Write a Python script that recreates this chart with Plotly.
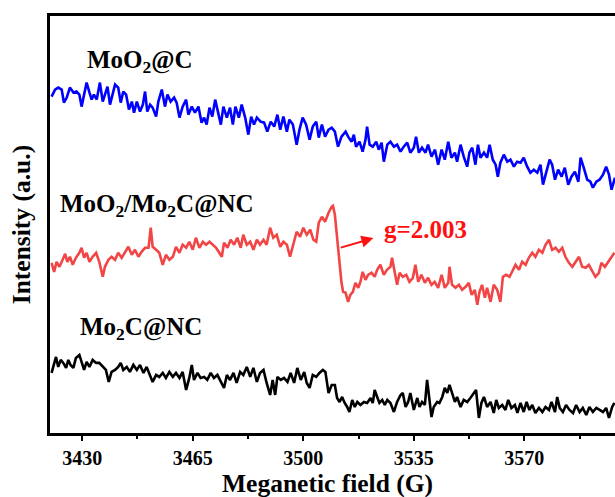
import plotly.graph_objects as go

# ---------------- data ----------------
blue_field = [
    3420.3, 3421.4, 3422.4, 3423.5, 3424.2, 3425.1, 3426.1, 3427.2, 3428.2, 3429.1,
    3429.8, 3430.7, 3431.4, 3432.3, 3433.0, 3433.7, 3434.6, 3435.6, 3436.5, 3437.2,
    3438.0, 3438.8, 3439.6, 3440.4, 3441.4, 3442.2, 3443.0, 3443.9, 3444.8, 3445.7,
    3446.4, 3447.3, 3448.3, 3449.2, 3449.9, 3450.6, 3451.5, 3452.3, 3453.4, 3454.1,
    3455.2, 3456.2, 3457.0, 3458.0, 3459.1, 3459.9, 3460.8, 3461.8, 3462.9, 3463.6,
    3464.7, 3465.7, 3466.8, 3467.8, 3468.6, 3469.4, 3470.3, 3471.2, 3472.1, 3473.1,
    3473.9, 3474.7, 3475.8, 3476.8, 3477.7, 3478.5, 3479.6, 3480.5, 3481.6, 3482.6,
    3483.5, 3484.4, 3485.3, 3486.5, 3487.6, 3488.6, 3489.7, 3490.8, 3491.8, 3492.7,
    3493.7, 3494.8, 3495.6, 3496.7, 3497.9, 3498.8, 3499.8, 3500.9, 3502.0, 3503.0,
    3504.1, 3504.9, 3505.9, 3506.9, 3508.0, 3509.0,
    3510.0, 3511.0, 3512.1, 3513.4, 3514.2, 3515.3, 3516.0, 3516.7, 3517.8, 3518.8,
    3519.7, 3520.2, 3521.0, 3522.0, 3523.1, 3523.9, 3524.8, 3525.5, 3526.6, 3527.6,
    3528.7, 3529.7, 3530.8, 3531.8, 3532.9, 3533.9, 3535.0, 3535.7, 3536.6, 3537.6,
    3538.7, 3539.5, 3540.6, 3541.7, 3542.7, 3543.8, 3544.8, 3545.9, 3546.9, 3548.0,
    3548.7, 3549.8, 3550.8, 3551.9, 3552.6, 3553.5, 3554.5, 3555.3, 3556.1, 3557.2,
    3558.2, 3559.0, 3560.0, 3560.9, 3561.6, 3562.4, 3563.5, 3564.6, 3565.6, 3566.7,
    3567.7, 3568.8, 3569.8, 3570.9, 3571.9, 3573.0, 3574.1, 3575.1, 3575.9, 3576.9,
    3578.0, 3578.8, 3579.7, 3580.7, 3581.8, 3582.8, 3583.9, 3584.9, 3586.0, 3587.1,
    3587.8, 3588.8, 3589.9, 3590.9, 3591.7, 3592.8, 3593.8, 3594.9, 3595.9, 3596.8,
    3597.6, 3598.7,
]
blue_intensity = [
    336, 343, 345, 343, 330, 335, 345, 340, 341, 338,
    326, 338, 350, 340, 333, 338, 333, 350, 331, 338,
    346, 328, 338, 348, 345, 330, 341, 338, 323, 331,
    320, 331, 321, 328, 341, 321, 328, 325, 316, 331,
    343, 326, 338, 331, 335, 330, 315, 326, 333, 318,
    326, 320, 326, 310, 315, 308, 325, 316, 333, 318,
    308, 326, 315, 325, 308, 326, 315, 328, 315, 298,
    316, 308, 315, 311, 310, 301, 311, 306, 318, 303,
    316, 301, 313, 308, 288, 303, 315, 308, 293, 306,
    311, 295, 308, 296, 303, 305,
    301, 286, 296, 301, 296, 291, 298, 286, 291, 281,
    293, 306, 288, 286, 291, 283, 290, 271, 288, 291,
    286, 288, 281, 286, 290, 280, 285, 296, 280, 285,
    280, 288, 276, 283, 268, 283, 273, 291, 275, 280,
    271, 288, 276, 266, 280, 285, 268, 288, 275, 280,
    275, 288, 273, 268, 256, 270, 278, 271, 273, 266,
    271, 270, 275, 266, 260, 263, 260, 268, 248, 260,
    273, 268, 253, 263, 256, 265, 248, 256, 261, 251,
    275, 265, 253, 251, 245, 251, 253, 258, 266, 258,
    243, 255,
]

red_field = [
    3420.3, 3421.1, 3421.9, 3422.8, 3423.8, 3424.6, 3425.3, 3426.1, 3427.0, 3428.0,
    3429.1, 3429.8, 3430.6, 3431.4, 3432.3, 3433.3, 3434.4, 3435.4, 3436.5, 3437.2,
    3438.3, 3439.3, 3440.4, 3441.4, 3442.5, 3443.6, 3444.6, 3445.7, 3446.7, 3447.8,
    3448.8, 3449.9, 3451.0, 3451.7, 3452.3, 3453.4, 3454.4, 3455.5, 3456.5, 3457.6,
    3458.7, 3459.7, 3460.8, 3461.8, 3462.9, 3463.9, 3465.0, 3466.0, 3467.1, 3468.2,
    3469.2, 3470.3, 3471.3, 3472.4, 3473.4, 3474.2, 3474.9, 3476.0, 3477.0, 3478.1,
    3479.1, 3480.2, 3481.0, 3482.1, 3483.2, 3484.2, 3485.3, 3486.3, 3487.4, 3488.4,
    3489.5, 3490.5, 3491.6, 3492.7, 3493.7, 3494.8, 3495.8, 3496.9, 3497.9, 3499.0,
    3500.0, 3501.1, 3502.2, 3503.2, 3504.1, 3504.9, 3505.9, 3506.9, 3508.0, 3509.0,
    3509.4, 3510.0, 3510.4, 3511.0, 3511.5, 3512.1, 3512.6, 3513.4, 3514.2, 3514.9,
    3515.7, 3516.5, 3517.4, 3518.1, 3518.8, 3519.7, 3520.5, 3521.6, 3522.6, 3523.4,
    3524.4, 3525.5, 3526.5, 3527.6, 3528.1, 3529.0, 3529.7, 3530.5, 3531.5, 3532.6,
    3533.6, 3534.7, 3535.5, 3536.4, 3537.4, 3538.5, 3539.5, 3540.6, 3541.6, 3542.7,
    3543.8, 3544.8, 3545.9, 3546.3, 3547.1, 3548.2, 3549.3, 3550.3, 3551.4, 3552.4,
    3553.3, 3554.3, 3555.1, 3555.8, 3556.6, 3557.5, 3558.2, 3559.3, 3560.3, 3561.4,
    3562.4, 3563.2, 3564.2, 3565.3, 3566.4, 3567.2, 3568.3, 3569.3, 3570.4, 3571.4,
    3572.5, 3573.5, 3574.6, 3575.7, 3576.7, 3577.8, 3578.8, 3579.9, 3580.9, 3582.0,
    3583.0, 3584.1, 3585.2, 3586.2, 3587.3, 3588.3, 3589.4, 3590.4, 3591.5, 3592.5,
    3593.6, 3594.4, 3595.5, 3596.6, 3597.6, 3598.5,
]
red_intensity = [
    170, 161, 171, 166, 173, 179, 171, 176, 168, 175,
    180, 185, 175, 180, 171, 176, 180, 171, 156, 166,
    173, 176, 173, 180, 175, 181, 186, 178, 183, 176,
    181, 185, 185, 205, 186, 183, 180, 168, 178, 173,
    176, 186, 180, 188, 185, 191, 183, 195, 185, 191,
    188, 191, 188, 185, 180, 176, 190, 185, 193, 188,
    195, 185, 198, 188, 191, 183, 193, 188, 193, 188,
    205, 195, 198, 186, 191, 188, 176, 190, 201, 196,
    205, 198, 203, 193, 191, 210, 216, 211, 220, 226,
    227, 218, 205, 185, 165, 150, 141, 140, 131, 138,
    141, 150, 145, 151, 161, 153, 158, 160, 156, 163,
    168, 158, 163, 166, 175, 158, 148, 160, 156, 158,
    151, 155, 168, 151, 158, 150, 155, 148, 151, 145,
    158, 145, 150, 166, 148, 145, 148, 143, 146, 150,
    138, 143, 128, 141, 148, 135, 145, 131, 148, 143,
    131, 156, 158, 156, 163, 168, 163, 171, 168, 175,
    180, 176, 183, 180, 188, 193, 183, 185, 181, 185,
    176, 170, 166, 171, 176, 166, 165, 168, 161, 156,
    160, 170, 166, 171, 175, 180,
]

black_field = [
    3420.3, 3421.1, 3421.7, 3422.4, 3423.2, 3424.0, 3424.9, 3425.6, 3426.3, 3427.2,
    3428.0, 3429.1, 3429.8, 3430.6, 3431.4, 3432.3, 3433.3, 3434.4, 3435.4, 3436.5,
    3437.5, 3438.4, 3439.3, 3440.4, 3441.4, 3442.2, 3443.0, 3444.1, 3445.1, 3446.2,
    3447.3, 3448.3, 3449.4, 3450.4, 3451.5, 3452.3, 3453.4, 3454.4, 3455.5, 3456.5,
    3457.6, 3458.7, 3459.7, 3460.8, 3461.8, 3462.9, 3463.9, 3464.7, 3465.4, 3466.5,
    3467.5, 3468.6, 3469.6, 3470.7, 3471.7, 3472.8, 3473.6, 3474.9, 3475.8, 3476.8,
    3477.9, 3478.9, 3480.0, 3481.0, 3482.1, 3483.2, 3484.2, 3485.3, 3486.3, 3487.4,
    3488.4, 3489.5, 3490.3, 3491.1, 3491.8, 3492.9, 3493.9, 3495.0, 3496.0, 3497.1,
    3498.1, 3499.2, 3500.3, 3501.1, 3502.0, 3503.0, 3504.1, 3505.1, 3506.2, 3507.0,
    3508.0, 3509.0,
    3510.0, 3510.7, 3511.5, 3512.3, 3513.1, 3513.9, 3514.6, 3515.5, 3516.3, 3517.1,
    3518.1, 3519.2, 3520.2, 3521.3, 3522.0, 3522.6, 3523.4, 3524.1, 3525.0, 3525.8,
    3526.6, 3527.6, 3528.7, 3529.7, 3530.8, 3531.5, 3532.4, 3533.2, 3533.9, 3535.0,
    3536.1, 3536.8, 3537.6, 3538.5, 3539.2, 3540.0, 3540.6, 3541.3, 3542.4, 3543.1,
    3544.0, 3544.8, 3545.6, 3546.3, 3547.1, 3548.0, 3548.7, 3549.8, 3550.8, 3551.9,
    3552.9, 3554.0, 3554.7, 3555.6, 3556.4, 3557.2, 3558.2, 3559.3, 3560.3, 3561.1,
    3561.9, 3563.0, 3564.0, 3564.9, 3565.9, 3567.0, 3567.8, 3568.8, 3569.8, 3570.7,
    3571.6, 3572.5, 3573.5, 3574.6, 3575.7, 3576.7, 3577.8, 3578.6, 3579.7, 3580.4,
    3581.2, 3582.2, 3583.2, 3584.3, 3585.4, 3586.4, 3587.5, 3588.5, 3589.6, 3590.6,
    3591.7, 3592.8, 3593.8, 3594.9, 3595.9, 3596.8, 3597.8, 3598.5,
]
black_intensity = [
    60, 68, 76, 66, 73, 70, 65, 73, 68, 65,
    75, 78, 70, 63, 71, 66, 73, 70, 70, 66,
    63, 51, 61, 63, 66, 70, 63, 66, 61, 68,
    63, 68, 60, 66, 56, 51, 58, 56, 60, 55,
    61, 56, 60, 55, 61, 43, 55, 68, 53, 60,
    55, 56, 53, 60, 55, 58, 53, 45, 58, 53,
    60, 50, 61, 58, 66, 56, 65, 51, 60, 63,
    50, 38, 53, 38, 56, 53, 55, 51, 60, 50,
    65, 53, 61, 50, 45, 58, 56, 60, 63, 61,
    40, 48,
    48, 35, 31, 36, 30, 26, 21, 33, 26, 31,
    28, 31, 30, 35, 30, 43, 36, 30, 33, 28,
    33, 30, 21, 31, 38, 40, 26, 31, 40, 23,
    35, 26, 31, 28, 53, 31, 16, 26, 31, 30,
    36, 45, 40, 48, 40, 31, 36, 26, 33, 31,
    35, 40, 43, 15, 30, 36, 26, 31, 20, 33,
    25, 28, 23, 33, 25, 28, 20, 30, 21, 31,
    23, 28, 20, 25, 21, 26, 23, 31, 21, 36,
    25, 21, 28, 23, 20, 28, 21, 25, 18, 26,
    21, 25, 23, 21, 25, 15, 26, 30,
]

tick_values = [3430, 3465, 3500, 3535, 3570]
tick_labels = ["3430", "3465", "3500", "3535", "3570"]
minor_tick_values = [3447.5, 3482.5, 3517.5, 3552.5, 3587.5]

series_names = ["MoO2@C", "MoO2/Mo2C@NC", "Mo2C@NC"]

assert len(blue_field) == len(blue_intensity)
assert len(red_field) == len(red_intensity)
assert len(black_field) == len(black_intensity)

# ---------------- figure ----------------
FONT = "Liberation Serif, Times New Roman, serif"
fig = go.Figure()
fig.add_trace(go.Scatter(x=blue_field, y=blue_intensity, mode="lines",
                         name=series_names[0], line=dict(color="#0000FF", width=2.6)))
fig.add_trace(go.Scatter(x=red_field, y=red_intensity, mode="lines",
                         name=series_names[1], line=dict(color="#F24545", width=2.6)))
fig.add_trace(go.Scatter(x=black_field, y=black_intensity, mode="lines",
                         name=series_names[2], line=dict(color="#000000", width=2.6)))

lab_font = dict(family=FONT, size=25, color="black", weight="bold")
annotations = [
    dict(x=3431.0, y=371, xref="x", yref="y", text="MoO<sub>2</sub>@C",
         showarrow=False, xanchor="left", yanchor="middle", font=lab_font),
    dict(x=3422.3, y=227, xref="x", yref="y", text="MoO<sub>2</sub>/Mo<sub>2</sub>C@NC",
         showarrow=False, xanchor="left", yanchor="middle", font=lab_font),
    dict(x=3428.8, y=104, xref="x", yref="y", text="Mo<sub>2</sub>C@NC",
         showarrow=False, xanchor="left", yanchor="middle", font=lab_font),
    dict(x=3524.8, y=203, xref="x", yref="y", text="g=2.003",
         showarrow=False, xanchor="left", yanchor="middle",
         font=dict(family=FONT, size=25, color="#FF1010", weight="bold")),
    dict(x=3522.2, y=194.7, xref="x", yref="y", ax=3511.4, ay=184.7,
         axref="x", ayref="y", text="", showarrow=True, arrowhead=2,
         arrowsize=1.2, arrowwidth=2, arrowcolor="#FF1010"),
    dict(x=0.491, y=-0.12, xref="paper", yref="paper",
         text="Meganetic field (G)", showarrow=False,
         xanchor="center", yanchor="middle",
         font=dict(family=FONT, size=25.5, color="black", weight="bold")),
    dict(x=-0.05, y=0.5, xref="paper", yref="paper",
         text="Intensity (a.u.)", showarrow=False, textangle=-90,
         xanchor="center", yanchor="middle",
         font=dict(family=FONT, size=25.5, color="black", weight="bold")),
]

fig.update_layout(
    width=615, height=497,
    margin=dict(l=50, r=0, t=16, b=64, pad=0),
    paper_bgcolor="white", plot_bgcolor="white",
    showlegend=False,
    annotations=annotations,
    xaxis=dict(
        range=[3419.8, 3598.7],
        showline=True, linecolor="black", linewidth=2.5, mirror=True,
        ticks="outside", ticklen=5, tickwidth=2, tickcolor="black",
        tickvals=tick_values, ticktext=tick_labels,
        tickfont=dict(family=FONT, size=20, color="black", weight="bold"),
        minor=dict(tickvals=minor_tick_values, ticks="outside", ticklen=3,
                   tickwidth=2, tickcolor="black", showgrid=False),
        showgrid=False, zeroline=False,
    ),
    yaxis=dict(
        range=[0, 416.5],
        showline=True, linecolor="black", linewidth=2.5, mirror=False,
        ticks="", showticklabels=False, showgrid=False, zeroline=False,
    ),
)

fig.write_html("out.html")
